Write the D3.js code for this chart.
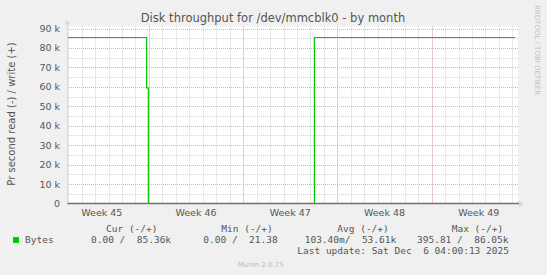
<!DOCTYPE html>
<html>
<head>
<meta charset="utf-8">
<script src="https://cdn.jsdelivr.net/npm/d3@7"></script>
<style>
  body { margin: 0; background: #f0f0f0; }
  svg { display: block; }
</style>
</head>
<body>
<div id="chart-area"></div>
<script>
// data (write series, bytes/s); read series is all zero
var times = ["2025-11-03T22:00Z", "2025-11-09T20:00Z", "2025-11-09T23:00Z",
             "2025-11-22T07:00Z", "2025-12-07T05:00Z"];
var writeValues = [85360, 59500, 0, 85360, 85360];
var readValues = [0, 0, 0, 0, 0];
var yTicks = [0, 10000, 20000, 30000, 40000, 50000, 60000, 70000, 80000, 90000];
var yLabels = ["0", "10 k", "20 k", "30 k", "40 k", "50 k", "60 k", "70 k", "80 k", "90 k"];
var legendHeads = ["Cur (-/+)", "Min (-/+)", "Avg (-/+)", "Max (-/+)"];
var legendVals = ["0.00 /  85.36k", "0.00 /  21.38", "103.40m/  53.61k", "395.81 /  86.05k"];

var width = 547, height = 275;
var plot = {left: 67, right: 518, top: 28.5, bottom: 203.5};

var svg = d3.select("#chart-area").append("svg")
    .attr("width", width)
    .attr("height", height);

svg.append("rect").attr("width", width).attr("height", height).attr("fill", "#f0f0f0");
svg.append("rect")
    .attr("x", plot.left).attr("y", plot.top - 2)
    .attr("width", plot.right - plot.left).attr("height", plot.bottom - plot.top + 2)
    .attr("fill", "#ffffff");

var x = d3.scaleUtc()
    .domain([new Date("2025-11-03T22:00Z"), new Date("2025-12-07T10:00Z")])
    .range([plot.left, plot.right]);

var y = d3.scaleLinear()
    .domain([0, 90000])
    .range([plot.bottom, plot.top]);

// minor grid
var days = d3.utcDay.range(x.domain()[0], x.domain()[1]);
svg.append("g").selectAll("line").data(days).enter().append("line")
    .attr("x1", d => Math.round(x(d)) + 0.5).attr("x2", d => Math.round(x(d)) + 0.5)
    .attr("y1", plot.bottom).attr("y2", plot.top - 2)
    .attr("stroke", "#d4d4d4").attr("stroke-dasharray", "1,1");
var minorY = d3.range(5000, 90001, 10000);
svg.append("g").selectAll("line").data(minorY).enter().append("line")
    .attr("x1", plot.left).attr("x2", plot.right)
    .attr("y1", d => Math.round(y(d)) + 0.5).attr("y2", d => Math.round(y(d)) + 0.5)
    .attr("stroke", "#d4d4d4").attr("stroke-dasharray", "1,1");

// major grid
var mondays = d3.utcMonday.range(x.domain()[0], x.domain()[1]);
svg.append("g").selectAll("line").data(mondays).enter().append("line")
    .attr("x1", d => Math.round(x(d)) + 0.5).attr("x2", d => Math.round(x(d)) + 0.5)
    .attr("y1", plot.bottom).attr("y2", plot.top - 2)
    .attr("stroke", "#f0a8a8").attr("stroke-dasharray", "1,1");
svg.append("g").selectAll("line").data(yTicks.slice(1)).enter().append("line")
    .attr("x1", plot.left).attr("x2", plot.right + 1)
    .attr("y1", d => Math.round(y(d)) + 0.5).attr("y2", d => Math.round(y(d)) + 0.5)
    .attr("stroke", "#f0a8a8").attr("stroke-dasharray", "1,1");

// data
var series = times.map((t, i) => ({t: new Date(t), w: writeValues[i], r: readValues[i]}));
var line = d3.line()
    .x(d => x(d.t))
    .y(d => y(d.w))
    .curve(d3.curveStepAfter);
svg.append("path")
    .datum(series)
    .attr("d", line)
    .attr("fill", "none")
    .attr("stroke", "#00cc00")
    .attr("stroke-width", 1.2);

// axes
svg.append("line")
    .attr("x1", plot.left).attr("x2", plot.right + 1)
    .attr("y1", y(0)).attr("y2", y(0))
    .attr("stroke", "#707070")
    .attr("stroke-width", 1.6);
svg.append("line")
    .attr("x1", plot.left + 0.5).attr("x2", plot.left + 0.5)
    .attr("y1", plot.bottom).attr("y2", plot.top - 4)
    .attr("stroke", "#cfd6f8");
svg.append("path")
    .attr("d", "M" + (plot.left - 2.5) + "," + (plot.top - 4) + "L" + (plot.left + 0.5) + "," + (plot.top - 8) + "L" + (plot.left + 3.5) + "," + (plot.top - 4) + "Z")
    .attr("fill", "#cfd6f8");
svg.append("path")
    .attr("d", "M" + (plot.right + 1) + "," + (plot.bottom - 3) + "L" + (plot.right + 6) + "," + (plot.bottom + 0.5) + "L" + (plot.right + 1) + "," + (plot.bottom + 4) + "Z")
    .attr("fill", "#cfd6f8");

// y tick labels
svg.append("g").selectAll("text").data(yTicks).enter().append("text")
    .attr("x", 60)
    .attr("y", d => y(d) + 3.5)
    .attr("text-anchor", "end")
    .attr("font-family", "DejaVu Sans")
    .attr("font-size", "9.5px")
    .attr("fill", "#555")
    .text((d, i) => yLabels[i]);

// x labels, centred in each week (including the week cut off at the left)
var weekStarts = d3.utcMonday.range(d3.utcMonday.floor(x.domain()[0]), x.domain()[1]);
svg.append("g").selectAll("text").data(weekStarts).enter().append("text")
    .attr("x", d => x(d3.utcHour.offset(d, 84)))
    .attr("y", 215.5)
    .attr("text-anchor", "middle")
    .attr("font-family", "DejaVu Sans")
    .attr("font-size", "9.5px")
    .attr("fill", "#555")
    .text(d => "Week " + d3.utcFormat("%V")(d));

svg.append("text")
    .attr("x", 273)
    .attr("y", 22)
    .attr("text-anchor", "middle")
    .attr("font-family", "DejaVu Sans")
    .attr("font-size", "11.5px")
    .attr("fill", "#555")
    .text("Disk throughput for /dev/mmcblk0 - by month");

svg.append("text")
    .attr("transform", "translate(15,114) rotate(-90)")
    .attr("text-anchor", "middle")
    .attr("font-family", "DejaVu Sans")
    .attr("font-size", "10px")
    .attr("fill", "#555")
    .text("Pr second read (-) / write (+)");

svg.append("text")
    .attr("transform", "translate(534.5,5) rotate(90)")
    .attr("text-anchor", "start")
    .attr("font-family", "DejaVu Sans")
    .attr("font-size", "7px")
    .attr("fill", "#c0c0c0")
    .text("RRDTOOL / TOBI OETIKER");

// legend
var mono = "DejaVu Sans Mono";
var headX = [106, 221.3, 337.3, 451.7];
var valX = [91, 203.3, 304.7, 417];
svg.append("g").selectAll("text").data(legendHeads).enter().append("text")
    .attr("x", (d, i) => headX[i]).attr("y", 231.5)
    .attr("font-family", mono).attr("font-size", "9.5px").attr("fill", "#555")
    .style("white-space", "pre")
    .text(d => d);
svg.append("g").selectAll("text").data(legendVals).enter().append("text")
    .attr("x", (d, i) => valX[i]).attr("y", 242.8)
    .attr("font-family", mono).attr("font-size", "9.5px").attr("fill", "#555")
    .style("white-space", "pre")
    .text(d => d);
svg.append("rect")
    .attr("x", 13).attr("y", 237).attr("width", 6).attr("height", 6)
    .attr("fill", "#00cc00");
svg.append("text")
    .attr("x", 25).attr("y", 242.8)
    .attr("font-family", mono).attr("font-size", "9.5px").attr("fill", "#555")
    .text("Bytes");
svg.append("text")
    .attr("x", 297.3).attr("y", 254.3)
    .attr("font-family", mono).attr("font-size", "9.5px").attr("fill", "#555")
    .style("white-space", "pre")
    .text("Last update: Sat Dec  6 04:00:13 2025");
svg.append("text")
    .attr("x", 260.7).attr("y", 266.5)
    .attr("text-anchor", "middle")
    .attr("font-family", "DejaVu Sans")
    .attr("font-size", "7px")
    .attr("fill", "#bbb")
    .text("Munin 2.0.75");
</script>
</body>
</html>
